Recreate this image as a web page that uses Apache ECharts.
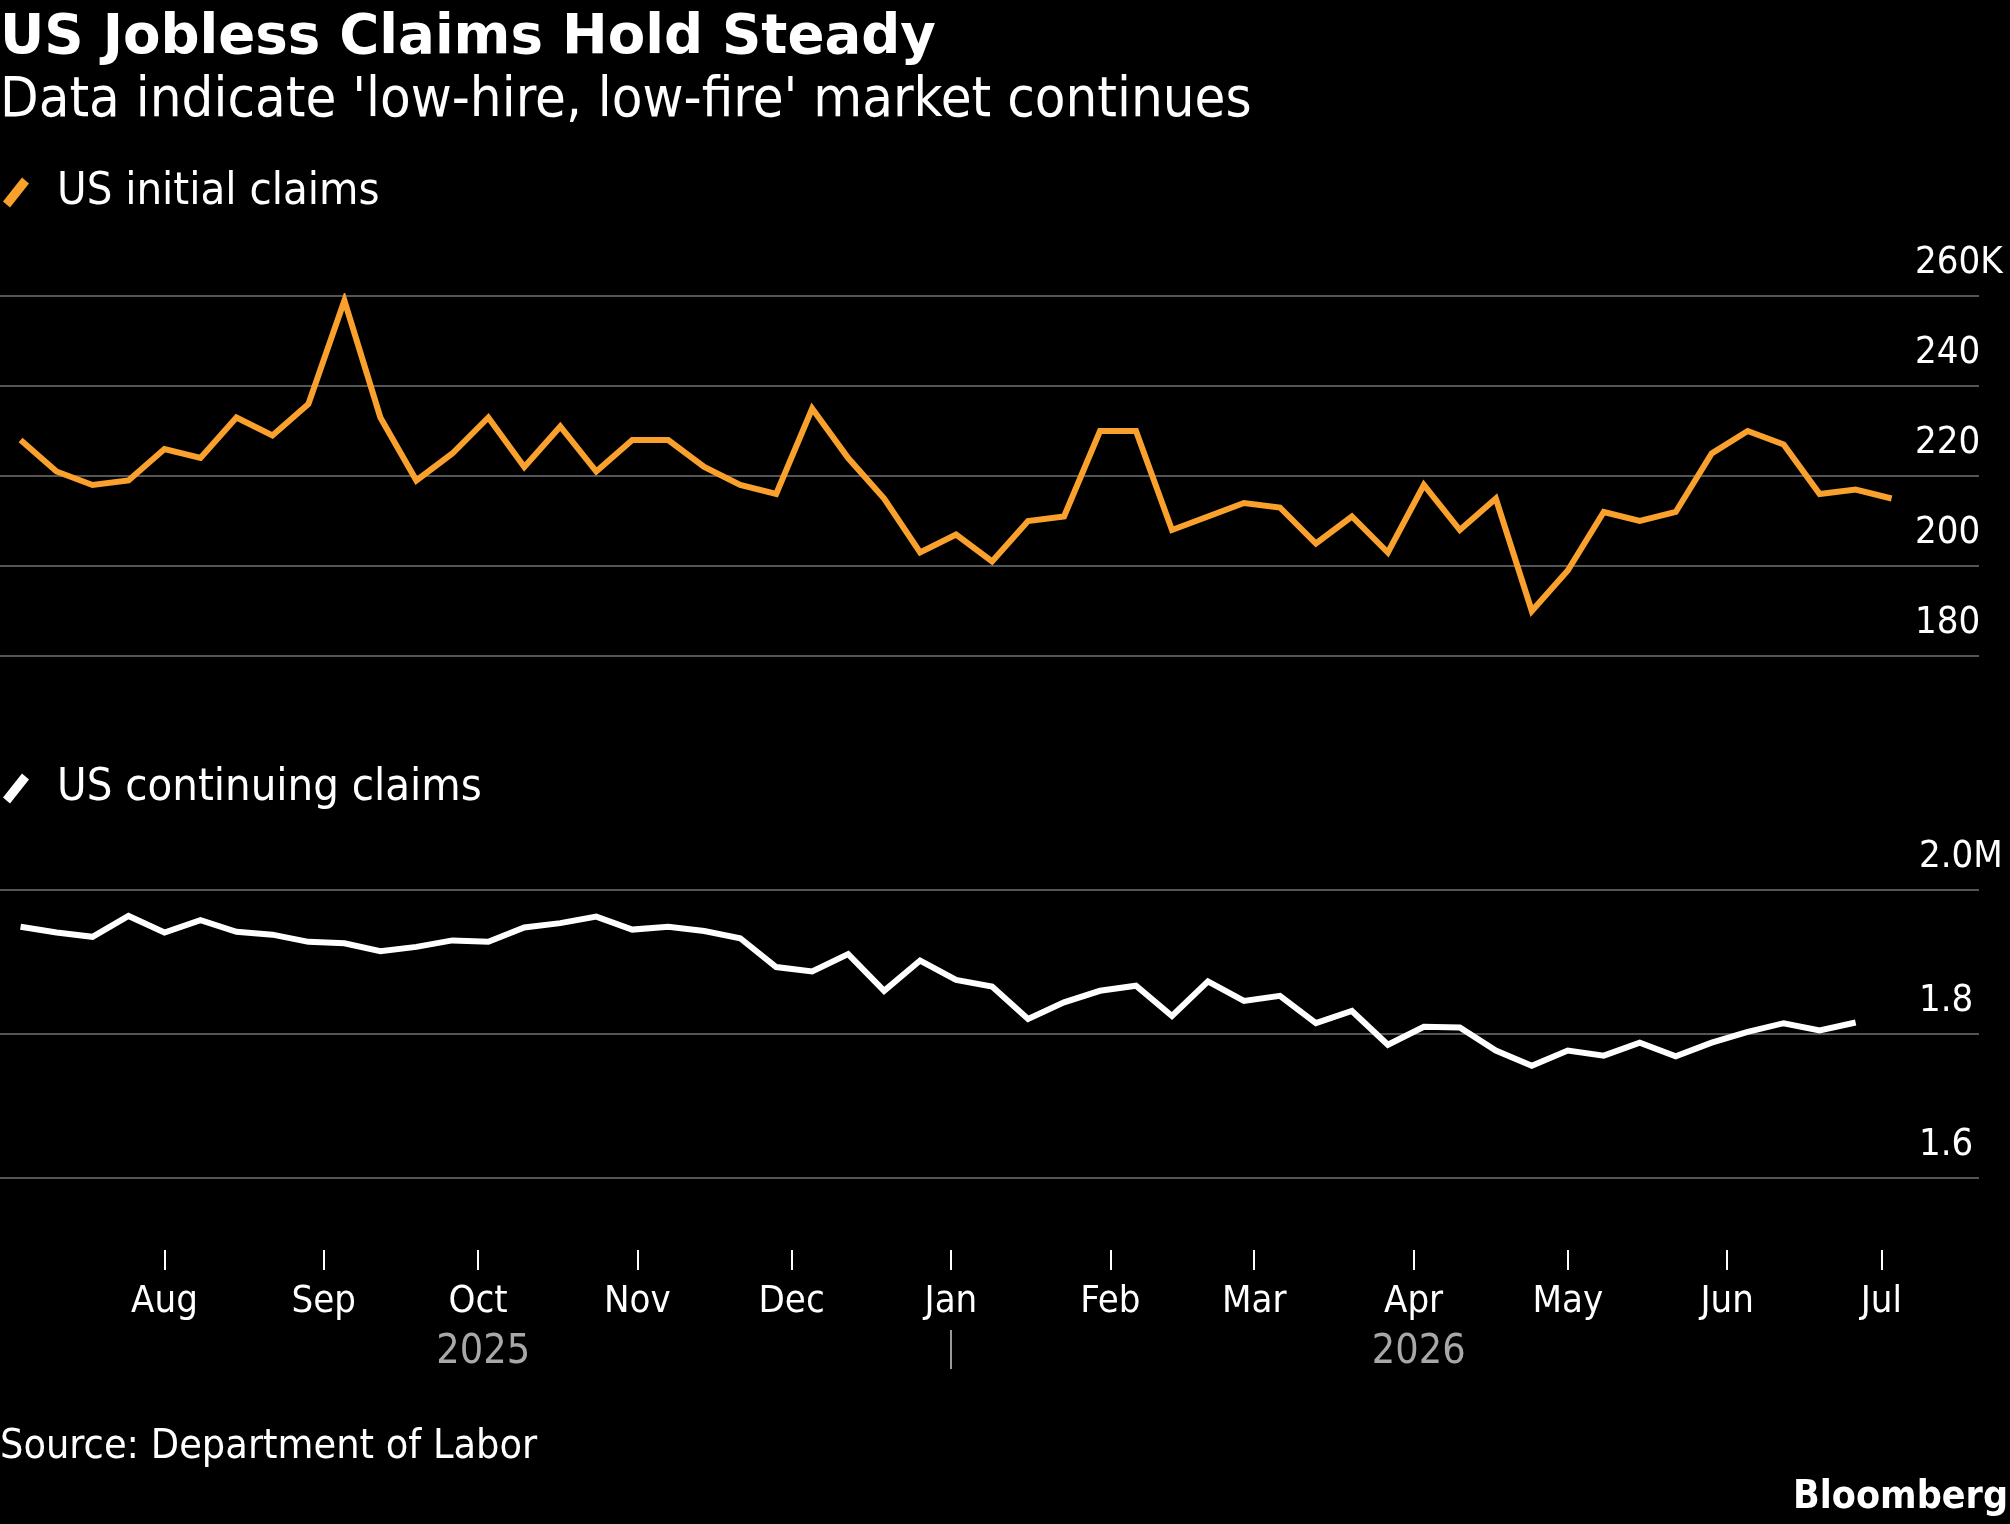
<!DOCTYPE html>
<html>
<head>
<meta charset="utf-8">
<title>US Jobless Claims Hold Steady</title>
<script src="https://cdn.jsdelivr.net/npm/echarts@6.0.0/dist/echarts.min.js"></script>
<style>
html, body { margin: 0; padding: 0; background: #000; }
#chart { width: 2010px; height: 1524px; }
</style>
</head>
<body>
<div id="chart"></div>
<script>
// weekly data, first week and values
var firstWeek = '2025-07-04';
var initialClaims = [228, 221, 218, 219, 226, 224, 233, 229, 236, 259,
    233, 219, 225, 233, 222, 231, 221, 228, 228, 222,
    218, 216, 235, 224, 215, 203, 207, 201, 210, 211,
    230, 230, 208, 211, 214, 213, 205, 211, 203, 218,
    208, 215, 190, 199, 212, 210, 212, 225, 230, 227,
    216, 217, 215];
var continuingClaims = [1949, 1941, 1935, 1964, 1941, 1958, 1942, 1938, 1928, 1926,
    1915, 1921, 1930, 1928, 1948, 1954, 1963, 1945, 1949, 1943,
    1933, 1893, 1887, 1911, 1860, 1902, 1875, 1866, 1821, 1844,
    1860, 1867, 1825, 1873, 1846, 1853, 1815, 1832, 1785, 1810,
    1809, 1777, 1756, 1777, 1770, 1788, 1769, 1788, 1803, 1815,
    1805, 1816];
var monthTicks = ['2025-08-01', '2025-09-01', '2025-10-01', '2025-11-01', '2025-12-01', '2026-01-01',
    '2026-02-01', '2026-03-01', '2026-04-01', '2026-05-01', '2026-06-01', '2026-07-01'];
var monthLabels = ['Aug', 'Sep', 'Oct', 'Nov', 'Dec', 'Jan', 'Feb', 'Mar', 'Apr', 'May', 'Jun', 'Jul'];
var yearLabels = ['2025', '2026'];
var yearLabelDates = ['2025-10-02', '2026-04-02'];
var yearBreak = ['2026-01-01'];
var initialTicks = [180, 200, 220, 240, 260];
var continuingTicks = [1600, 1800, 2000];
var xRange = ['2025-06-30', '2026-07-20'];

var condensed = "'DejaVu Sans Condensed', 'Liberation Sans Narrow', sans-serif";
var gridColor = '#555555';
var slash = 'path://M0,24 L19,0 L26,6 L7,30 Z';

function day(s) {
    var p = s.split('-');
    return Date.UTC(+p[0], +p[1] - 1, +p[2]);
}
function weekly(values) {
    var t0 = day(firstWeek);
    return values.map(function (v, i) { return [t0 + i * 7 * 86400000, v]; });
}

var tickTimes = monthTicks.map(day);
var yearTimes = yearLabelDates.map(day);

var myChart = echarts.init(document.getElementById('chart'));

function xAxisBase(gridIndex) {
    return {
        type: 'value',
        gridIndex: gridIndex,
        position: 'bottom',
        min: day(xRange[0]),
        max: day(xRange[1]),
        splitLine: {show: false},
        axisLine: {show: false}
    };
}

function yAxisBase(gridIndex, ticks, suffix, margin, fmt) {
    return {
        type: 'value',
        gridIndex: gridIndex,
        position: 'right',
        min: ticks[0],
        max: ticks[ticks.length - 1],
        interval: ticks[1] - ticks[0],
        axisLine: {show: false},
        axisTick: {show: false},
        splitLine: {lineStyle: {color: gridColor, width: 2}},
        axisLabel: {
            inside: true,
            align: 'left',
            verticalAlign: 'bottom',
            lineHeight: 66,
            margin: margin,
            color: '#fff',
            fontSize: 38,
            fontFamily: condensed,
            formatter: function (v) {
                var s = fmt(v);
                return v === ticks[ticks.length - 1] ? s + suffix : s;
            }
        }
    };
}

var option = {
    backgroundColor: '#000',
    animation: false,
    title: [
        {
            text: 'US Jobless Claims Hold Steady',
            left: 0, top: 11, padding: 0,
            textStyle: {color: '#fff', fontSize: 54.6, fontWeight: 'bold', fontFamily: "'DejaVu Sans', sans-serif"}
        },
        {
            text: "Data indicate 'low-hire, low-fire' market continues",
            left: 0, top: 74, padding: 0,
            textStyle: {color: '#fff', fontSize: 55.8, fontWeight: 'normal', fontFamily: condensed}
        },
        {
            text: 'Source: Department of Labor',
            left: 0, top: 1427, padding: 0,
            textStyle: {color: '#fff', fontSize: 41, fontWeight: 'normal', fontFamily: condensed}
        },
        {
            text: 'Bloomberg',
            right: 2, top: 1478, padding: 0,
            textStyle: {color: '#fff', fontSize: 39, fontWeight: 'bold', fontFamily: condensed}
        }
    ],
    legend: [
        {
            data: ['US initial claims'],
            left: 3, top: 170, padding: 0,
            icon: slash,
            itemWidth: 26, itemHeight: 30,
            textStyle: {color: '#fff', fontSize: 45, fontFamily: condensed, padding: [0, 0, 0, 23]}
        },
        {
            data: ['US continuing claims'],
            left: 3, top: 766, padding: 0,
            icon: slash,
            itemWidth: 26, itemHeight: 30,
            textStyle: {color: '#fff', fontSize: 45, fontFamily: condensed, padding: [0, 0, 0, 23]}
        }
    ],
    grid: [
        {left: 0, right: 31, top: 296, height: 360},
        {left: 0, right: 31, top: 890, height: 288}
    ],
    xAxis: [
        Object.assign(xAxisBase(0), {axisTick: {show: false}, axisLabel: {show: false}}),
        Object.assign(xAxisBase(1), {
            offset: 72,
            axisTick: {customValues: tickTimes, length: 20, lineStyle: {color: '#fff', width: 2}},
            axisLabel: {
                customValues: tickTimes,
                margin: 33,
                color: '#fff',
                fontSize: 38,
                fontFamily: condensed,
                formatter: function (v) { return monthLabels[tickTimes.indexOf(v)]; }
            }
        }),
        Object.assign(xAxisBase(1), {
            offset: 152,
            axisTick: {customValues: yearBreak.map(day), length: 39, lineStyle: {color: '#9a9a9a', width: 2}},
            axisLabel: {
                customValues: yearTimes,
                margin: 2,
                color: '#a8a8a8',
                fontSize: 41,
                fontFamily: condensed,
                formatter: function (v) { return yearLabels[yearTimes.indexOf(v)]; }
            }
        })
    ],
    yAxis: [
        yAxisBase(0, initialTicks, 'K', 64, function (v) { return String(v); }),
        yAxisBase(1, continuingTicks, 'M', 60, function (v) { return (v / 1000).toFixed(1); })
    ],
    series: [
        {
            name: 'US initial claims',
            type: 'line',
            xAxisIndex: 0,
            yAxisIndex: 0,
            symbol: 'none',
            color: '#f9a12c',
            lineStyle: {width: 6, join: 'miter'},
            data: weekly(initialClaims)
        },
        {
            name: 'US continuing claims',
            type: 'line',
            xAxisIndex: 1,
            yAxisIndex: 1,
            symbol: 'none',
            color: '#ffffff',
            lineStyle: {width: 6, join: 'miter'},
            data: weekly(continuingClaims)
        }
    ]
};

myChart.setOption(option);
</script>
</body>
</html>
